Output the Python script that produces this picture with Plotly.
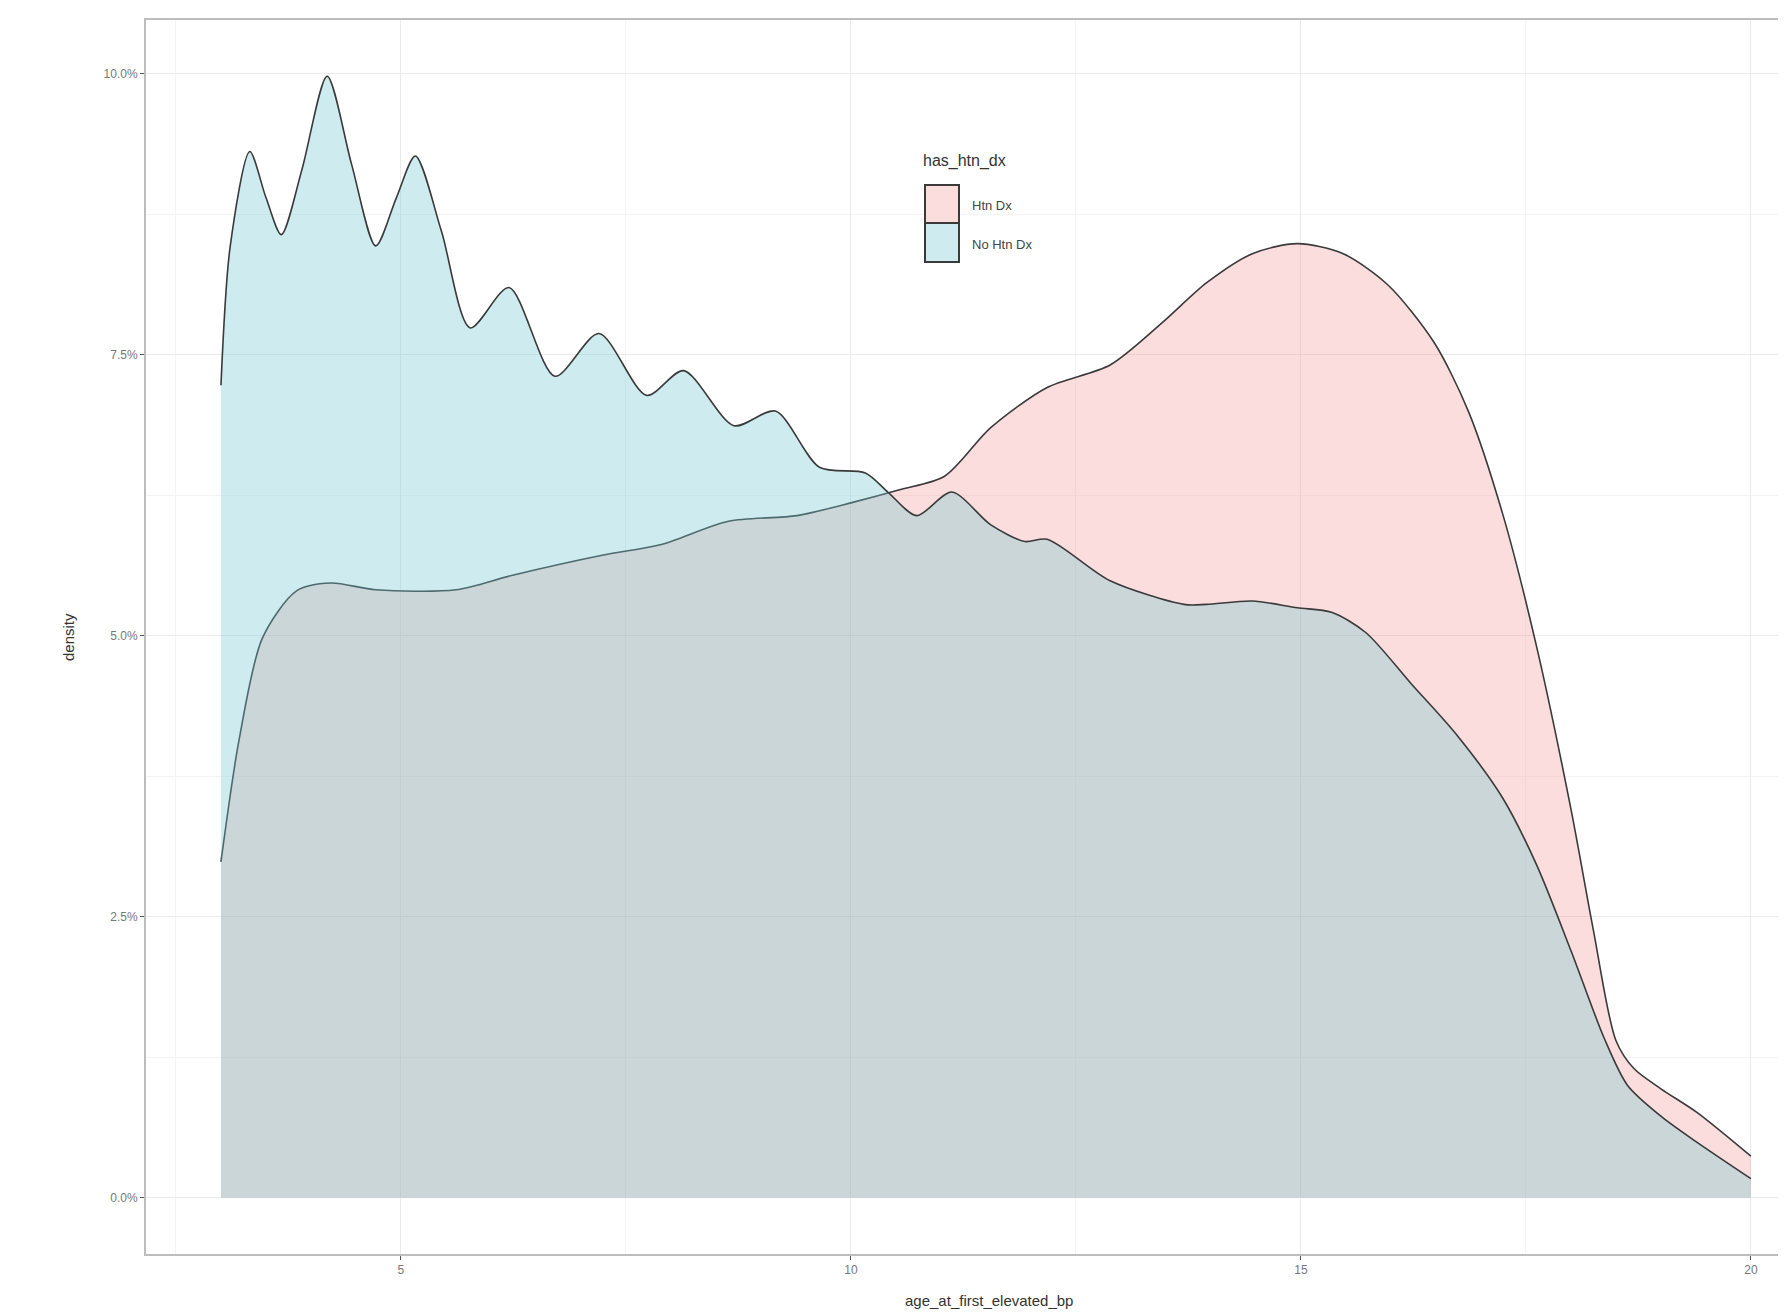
import plotly.graph_objects as go

# ---- data ----
htn_x = [3.0, 3.2, 3.46, 3.84, 4.22, 4.72, 5.61, 6.24, 7.25, 7.88, 8.64, 9.40, 10.03,
         10.54, 11.04, 11.55, 12.18, 12.88, 13.45, 13.95, 14.46, 14.96, 15.47, 15.97,
         16.48, 16.86, 17.24, 17.62, 18.0, 18.25, 18.5, 18.7, 19.0, 19.4, 20.0]
htn_y = [2.99, 4.07, 4.98, 5.40, 5.47, 5.41, 5.41, 5.54, 5.72, 5.81, 6.02, 6.07, 6.19,
         6.30, 6.42, 6.85, 7.21, 7.41, 7.78, 8.14, 8.40, 8.49, 8.40, 8.12,
         7.61, 7.00, 6.09, 4.90, 3.46, 2.38, 1.40, 1.15, 0.97, 0.76, 0.37]

nohtn_x = [3.0, 3.1, 3.32, 3.5, 3.67, 3.9, 4.18, 4.45, 4.72, 4.95, 5.16, 5.45, 5.77,
           6.2, 6.71, 7.2, 7.73, 8.14, 8.70, 9.16, 9.65, 10.16, 10.41, 10.73, 11.12,
           11.55, 11.93, 12.18, 12.88, 13.70, 13.95, 14.46, 14.96, 15.34, 15.72,
           16.23, 16.73, 17.24, 17.62, 18.0, 18.37, 18.63, 19.01, 19.39, 20.0]
nohtn_y = [7.23, 8.45, 9.31, 8.90, 8.57, 9.15, 9.98, 9.20, 8.47, 8.90, 9.27, 8.60, 7.74,
           8.10, 7.31, 7.69, 7.14, 7.36, 6.87, 7.00, 6.50, 6.45, 6.28, 6.07, 6.28,
           5.99, 5.84, 5.86, 5.49, 5.28, 5.28, 5.31, 5.25, 5.21, 5.03,
           4.57, 4.12, 3.56, 2.96, 2.20, 1.42, 1.00, 0.72, 0.50, 0.17]

groups = ["Htn Dx", "No Htn Dx"]
legend_title = "has_htn_dx"
x_title = "age_at_first_elevated_bp"
y_title = "density"
x_ticks = [5, 10, 15, 20]

pink_fill = "rgba(240,120,125,0.25)"
cyan_fill = "rgba(115,200,209,0.35)"
line_col = "#3a3a3a"

fig = go.Figure()
fig.add_trace(go.Scatter(
    x=htn_x, y=[v / 100 for v in htn_y], mode="lines", name=groups[0],
    line=dict(color=line_col, width=1.6, shape="spline", smoothing=0.8),
    fill="tozeroy", fillcolor=pink_fill, showlegend=False, hoverinfo="skip"))
fig.add_trace(go.Scatter(
    x=nohtn_x, y=[v / 100 for v in nohtn_y], mode="lines", name=groups[1],
    line=dict(color=line_col, width=1.6, shape="spline", smoothing=0.8),
    fill="tozeroy", fillcolor=cyan_fill, showlegend=False, hoverinfo="skip"))

# page body has an 8px margin; size the figure so it fits the window
OFF = 8
W, H = 1786 - OFF, 1315 - OFF
ml, mr, mt, mb = 146 - OFF, 0, 20 - OFF, 1315 - 1254

fig.update_layout(
    width=W, height=H,
    margin=dict(l=ml, r=mr, t=mt, b=mb),
    paper_bgcolor="white", plot_bgcolor="white",
    font=dict(family="Liberation Sans, Arial, sans-serif", color="#555"),
    showlegend=False,
)
fig.update_xaxes(
    range=[2.167, 20.39], tickmode="array", tickvals=x_ticks,
    ticktext=[str(t) for t in x_ticks],
    showgrid=True, gridcolor="#ebebeb", gridwidth=1.2,
    minor=dict(dtick=2.5, tick0=0, showgrid=True, gridcolor="#f4f4f4", gridwidth=1),
    showline=True, linecolor="#bdbdbd", linewidth=2, mirror=True,
    ticks="outside", ticklen=4, tickcolor="#555", tickwidth=1,
    tickfont=dict(size=12, color="#777"), zeroline=False,
)
fig.update_yaxes(
    range=[-0.005, 0.1048], dtick=0.025, tick0=0, tickformat=".1%",
    showgrid=True, gridcolor="#ebebeb", gridwidth=1.2,
    minor=dict(dtick=0.0125, tick0=0, showgrid=True, gridcolor="#f4f4f4", gridwidth=1),
    showline=True, linecolor="#bdbdbd", linewidth=2, mirror=False,
    ticks="outside", ticklen=4, tickcolor="#555", tickwidth=1,
    tickfont=dict(size=12, color="#777"), zeroline=False,
)

pw, ph = W - ml - mr, H - mt - mb
# helpers converting window pixel positions to paper coordinates
def px(xp):
    return (xp - OFF - ml) / pw
def py(yp):
    return (H - mb - (yp - OFF)) / ph

# axis titles
fig.add_annotation(text=x_title, xref="paper", yref="paper", x=px(989), y=py(1300),
                   showarrow=False, font=dict(size=15, color="#333"),
                   xanchor="center", yanchor="middle")
fig.add_annotation(text=y_title, xref="paper", yref="paper", x=px(68), y=py(637),
                   showarrow=False, textangle=-90, font=dict(size=15, color="#333"),
                   xanchor="center", yanchor="middle")

# manual legend
fig.add_annotation(text=legend_title, xref="paper", yref="paper", x=px(921), y=py(161),
                   showarrow=False, font=dict(size=16, color="#333"),
                   xanchor="left", yanchor="middle")
keys = [(pink_fill, 185, 223, 205), (cyan_fill, 223, 262, 245)]
for (fc, y0, y1, yt), name in zip(keys, groups):
    fig.add_shape(type="rect", xref="paper", yref="paper",
                  x0=px(925), x1=px(959), y0=py(y1), y1=py(y0),
                  fillcolor="white", line=dict(width=0), layer="above")
    fig.add_shape(type="rect", xref="paper", yref="paper",
                  x0=px(925), x1=px(959), y0=py(y1), y1=py(y0),
                  fillcolor=fc, line=dict(color=line_col, width=2), layer="above")
    fig.add_annotation(text=name, xref="paper", yref="paper", x=px(970), y=py(yt),
                       showarrow=False, font=dict(size=13, color="#444"),
                       xanchor="left", yanchor="middle")

fig.write_html("out.html")
